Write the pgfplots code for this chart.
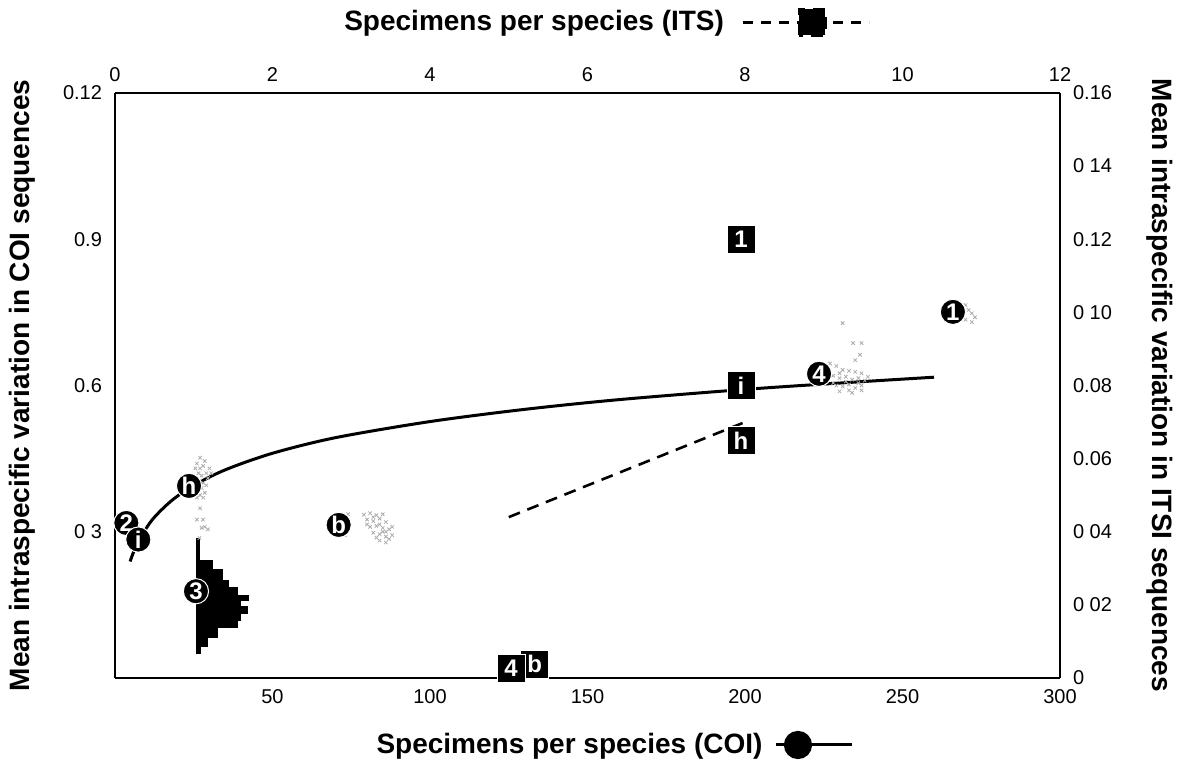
\documentclass[border=0pt]{standalone}
\usepackage{fontspec}
\setmainfont{Liberation Sans}
\usepackage{pgfplots}
\pgfplotsset{compat=1.18}
\begin{document}
\begin{tikzpicture}
\begin{axis}[
  name=coi,
  scale only axis, width=472.5pt, height=292.5pt,
  xmin=0, xmax=300, ymin=0, ymax=1.2,
  axis x line*=bottom, axis y line*=left,
  axis line style={line width=1.2pt},
  xtick={50,100,150,200,250,300},
  ytick={0.3,0.6,0.9,1.2},
  yticklabels={0 3,0.6,0.9,0.12},
  major tick length=0pt,
  tick label style={font=\fontsize{10}{12}\selectfont},
  /pgf/number format/assume math mode=true,
  xticklabel style={yshift=-2pt},
  yticklabel style={xshift=-3pt},
  clip=false,
  legend style={at={(0.527,-0.1145)}, anchor=center, draw=none, fill=none,
    font=\bfseries\fontsize{14}{16}\selectfont},
  legend plot pos=right,
]
% grey speckle clouds
\addplot[only marks, mark=x, mark size=1.2pt, gray!65, forget plot] coordinates {
 (26,0.44) (27,0.43) (28,0.435) (26.5,0.42) (27.5,0.415) (29,0.42) (26,0.40) (27,0.405)
 (28,0.40) (29.5,0.41) (26.5,0.385) (27.5,0.39) (28.5,0.38) (26,0.37) (27,0.375) (30,0.43)
 (28.5,0.445) (29,0.395) (28,0.37) (30.5,0.42) (27,0.452) (25.5,0.43)
 (27,0.348) (26,0.325) (27.9,0.325) (29.5,0.305) (28.5,0.31) (27.5,0.308) (26.8,0.287)
 (79,0.335) (81,0.338) (83,0.334) (85,0.336) (80,0.325) (82,0.322) (84,0.327) (86,0.32)
 (81,0.31) (83,0.312) (85,0.308) (87,0.305) (82,0.298) (84,0.295) (86,0.29) (88,0.293)
 (84,0.282) (86,0.278) (87,0.285) (73,0.293) (74,0.336) (80,0.315) (82,0.33) (84,0.315)
 (86,0.3) (88,0.31) (83,0.288) (85,0.3)
 (227,0.645) (229,0.64) (231,0.632) (233,0.63) (235,0.628) (237,0.625) (228,0.62) (230,0.615)
 (232,0.618) (234,0.612) (236,0.615) (238,0.61) (229,0.60) (231,0.598) (233,0.602) (235,0.595)
 (237,0.60) (230,0.588) (234,0.585) (231,0.728) (234.3,0.687) (237,0.687) (236.5,0.663) (235,0.652)
 (232,0.608) (236,0.605) (239,0.618) (230,0.625) (228,0.605) (233,0.59) (237,0.59)
 (268,0.77) (270,0.765) (271,0.755) (272,0.748) (273,0.74) (269,0.745) (270,0.735) (272,0.73)
};
% black blob
\addplot[fill=black, draw=black, forget plot] coordinates {
 (25.9,0.287) (26.7,0.287) (26.7,0.242) (30.8,0.242) (30.8,0.222) (34.0,0.222)
 (34.0,0.201) (35.9,0.201) (35.9,0.185) (38.7,0.185) (38.7,0.170) (42.2,0.170)
 (42.2,0.160) (39.7,0.160) (39.7,0.146) (41.9,0.146) (41.9,0.133) (39.7,0.133)
 (39.7,0.119) (38.7,0.119) (38.7,0.103) (32.4,0.103) (32.4,0.084) (29.2,0.084)
 (29.2,0.064) (27.0,0.064) (27.0,0.051) (25.9,0.051)
} -- cycle;
% fitted curve
\addplot[black, line width=1.5pt, smooth,
  legend image code/.code={
    \path (0pt,0pt);
    \draw[line width=1.5pt] (4pt,0pt) -- (42pt,0pt);
    \fill (15pt,0pt) circle (6.3pt);}]
 coordinates {
 (4.8,0.239) (6,0.260) (8,0.287) (12,0.326) (18,0.364) (25,0.395) (35,0.427)
 (50,0.461) (70,0.493) (100,0.526) (130,0.551) (160,0.571) (200,0.592)
 (230,0.605) (260,0.617)
};
\addlegendentry{Specimens per species (COI)}
% circles
\addplot[only marks, mark=*, mark size=6.3pt,
  mark options={fill=black, draw=white, line width=0.5pt},
  nodes near coords, point meta=explicit symbolic,
  nodes near coords align={center},
  every node near coord/.append style={anchor=center, text=white, inner sep=0pt,
    font=\bfseries\fontsize{12}{13}\selectfont},
  forget plot] table[meta=lab] {
x y lab
3.6 0.318 2
7.4 0.284 i
23.5 0.394 h
25.7 0.178 3
71 0.314 b
223.5 0.624 4
266 0.751 1
};
\node[rotate=90, anchor=center, font=\bfseries\fontsize{14}{16}\selectfont]
  at (axis description cs:-0.0984,0.5) {Mean intraspecific variation in COI sequences};
\end{axis}
\begin{axis}[
  scale only axis, width=472.5pt, height=292.5pt,
  xmin=0, xmax=12, ymin=0, ymax=0.16,
  axis x line*=top, axis y line*=right,
  axis line style={line width=1.2pt},
  xtick={0,2,4,6,8,10,12},
  ytick={0,0.02,0.04,0.06,0.08,0.10,0.12,0.14,0.16},
  yticklabels={0,0 02,0 04,0.06,0.08,0 10,0.12,0 14,0.16},
  major tick length=0pt,
  tick label style={font=\fontsize{10}{12}\selectfont},
  /pgf/number format/assume math mode=true,
  xticklabel style={yshift=2pt},
  yticklabel style={xshift=3pt},
  clip=false,
  legend style={at={(0.519,1.121)}, anchor=center, draw=none, fill=none,
    font=\bfseries\fontsize{14}{16}\selectfont},
  legend plot pos=right,
]
\addplot[black, line width=1.3pt, dash pattern=on 6pt off 4pt,
  legend image code/.code={
    \path (0pt,0pt);
    \draw[line width=1.3pt, dash pattern=on 5pt off 4pt] (7pt,0pt) -- (70pt,0pt);
    \fill (35pt,-6.5pt) rectangle (48pt,6.5pt);}]
 coordinates {(5.0,0.044) (8.0,0.070)};
\addlegendentry{Specimens per species (ITS)}
\addplot[only marks, mark=square*, mark size=7pt,
  mark options={fill=black, draw=white, line width=0.5pt},
  nodes near coords, point meta=explicit symbolic,
  nodes near coords align={center},
  every node near coord/.append style={anchor=center, text=white, inner sep=0pt,
    font=\bfseries\fontsize{12}{13}\selectfont},
  forget plot] table[meta=lab] {
x y lab
7.95 0.120 1
7.95 0.080 i
7.95 0.065 h
5.33 0.0038 b
5.03 0.0027 4
};
\node[rotate=-90, anchor=center, font=\bfseries\fontsize{14}{16}\selectfont]
  at (axis description cs:1.1058,0.5) {Mean intraspecific variation in ITSI sequences};
\end{axis}
\pgfresetboundingbox
\path[use as bounding box] ([xshift=-57.5pt,yshift=-46pt]coi.south west) rectangle ([xshift=61pt,yshift=46.5pt]coi.north east);
\end{tikzpicture}
\end{document}
